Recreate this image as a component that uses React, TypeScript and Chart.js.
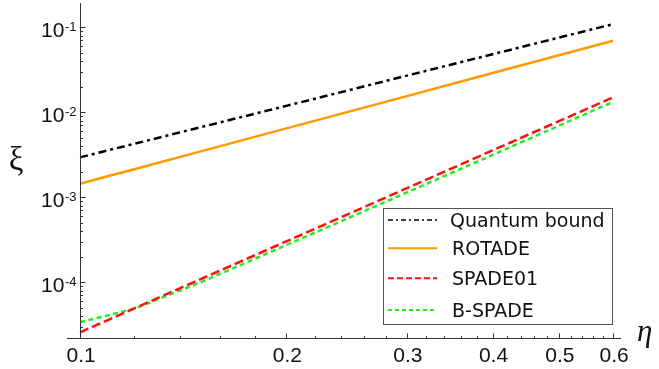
import React, { useEffect, useRef } from "react";
import { Chart, registerables } from "chart.js";

Chart.register(...registerables);

// ---- data ----
const eta = [0.1, 0.11, 0.12, 0.15, 0.2, 0.3, 0.4, 0.5, 0.6];
const quantumBound = [2.95e-3, 3.58e-3, 4.26e-3, 6.68e-3, 1.19e-2, 2.7e-2, 4.82e-2, 7.56e-2, 0.109];
const rotade = [1.445e-3, 1.78e-3, 2.14e-3, 3.47e-3, 6.47e-3, 1.55e-2, 2.9e-2, 4.69e-2, 6.96e-2];
const spade01 = [2.58e-5, 3.62e-5, 4.93e-5, 1.09e-4, 3.03e-4, 1.28e-3, 3.56e-3, 7.86e-3, 1.5e-2];
const bSpade = [3.4e-5, 4.1e-5, 4.9e-5, 1.0e-4, 2.74e-4, 1.14e-3, 3.15e-3, 6.95e-3, 1.33e-2];

const seriesLabels = ["Quantum bound", "ROTADE", "SPADE01", "B-SPADE"];

// ---- ticks ----
const xMajorTicks = [0.1, 0.2, 0.3, 0.4, 0.5, 0.6];
const xTickLabels = ["0.1", "0.2", "0.3", "0.4", "0.5", "0.6"];
const xMinorTicks = [
  0.12, 0.14, 0.16, 0.18, 0.22, 0.24, 0.26, 0.28, 0.32, 0.34, 0.36, 0.38,
  0.42, 0.44, 0.46, 0.48, 0.52, 0.54, 0.56, 0.58,
];
const yMajorExponents = [-4, -3, -2, -1];
const yMinorDecades = [-5, -4, -3, -2];
const yMinorMultipliers = [2, 3, 4, 5, 6, 7, 8, 9];

// ---- axis ranges ----
const X_MIN = 0.0957;
const X_MAX = 0.616;
const Y_MIN = 2.153e-5;
const Y_MAX = 0.1931;

const colors = ["#000000", "#FF9A00", "#FF1010", "#22EE22"];
const dashes: number[][] = [[8, 4, 3, 4], [], [9, 4], [5, 3.5]];
const legendDashes: number[][] = [[5, 3, 2, 3], [], [6, 3], [4, 3]];
const legendWidths = [1.6, 2, 2, 2];

const mmaPlugin = {
  id: "mmaAxes",
  afterDraw(chart: any) {
    const ctx: CanvasRenderingContext2D = chart.ctx;
    const xs = chart.scales.x;
    const ys = chart.scales.y;
    const axisX = Math.round(xs.getPixelForValue(0.1)) + 0.5;
    const axisY = Math.round(ys.bottom) - 0.5;
    ctx.save();
    ctx.strokeStyle = "#333";
    ctx.lineWidth = 1;
    ctx.setLineDash([]);
    // axes lines
    ctx.beginPath();
    ctx.moveTo(xs.left, axisY);
    ctx.lineTo(xs.right, axisY);
    ctx.moveTo(axisX, ys.top);
    ctx.lineTo(axisX, axisY);
    ctx.stroke();

    // x ticks
    ctx.beginPath();
    xMajorTicks.forEach((v) => {
      const px = Math.round(xs.getPixelForValue(v)) + 0.5;
      ctx.moveTo(px, axisY);
      ctx.lineTo(px, axisY - 5);
    });
    xMinorTicks.forEach((v) => {
      const px = Math.round(xs.getPixelForValue(v)) + 0.5;
      ctx.moveTo(px, axisY);
      ctx.lineTo(px, axisY - 2.5);
    });
    // y ticks
    yMajorExponents.forEach((e) => {
      const py = Math.round(ys.getPixelForValue(Math.pow(10, e))) + 0.5;
      ctx.moveTo(axisX, py);
      ctx.lineTo(axisX + 5, py);
    });
    yMinorDecades.forEach((d) => {
      yMinorMultipliers.forEach((m) => {
        const v = m * Math.pow(10, d);
        if (v < Y_MIN || v > Y_MAX) return;
        const py = Math.round(ys.getPixelForValue(v)) + 0.5;
        ctx.moveTo(axisX, py);
        ctx.lineTo(axisX + 2.5, py);
      });
    });
    ctx.stroke();

    // x tick labels
    ctx.fillStyle = "#111";
    ctx.font = '21px "Liberation Sans", Arial, sans-serif';
    ctx.textAlign = "center";
    ctx.textBaseline = "alphabetic";
    xMajorTicks.forEach((v, i) => {
      const px = xs.getPixelForValue(v);
      ctx.fillText(xTickLabels[i], px + 1, 361.5);
    });

    // y tick labels 10^e
    yMajorExponents.forEach((e) => {
      const py = ys.getPixelForValue(Math.pow(10, e));
      const sup = String(e);
      ctx.font = '13px "Liberation Sans", Arial, sans-serif';
      const supW = ctx.measureText(sup).width;
      const right = 76.5;
      ctx.textAlign = "left";
      ctx.fillText(sup, right - supW, py + 3.5);
      ctx.font = '21px "Liberation Sans", Arial, sans-serif';
      ctx.textAlign = "right";
      ctx.fillText("10", right - supW - 0.5, py + 10);
    });

    // axis titles
    ctx.font = '33px "Liberation Serif", "DejaVu Serif", serif';
    ctx.textAlign = "center";
    ctx.fillText("ξ", 16, 170);
    ctx.font = 'italic 31px "Liberation Serif", "DejaVu Serif", serif';
    ctx.textAlign = "left";
    ctx.fillText("η", 637, 340.5);

    // legend
    const bx = 383.5, by = 208.5, bw = 229, bh = 116;
    ctx.fillStyle = "#fff";
    ctx.fillRect(bx, by, bw, bh);
    ctx.strokeStyle = "#555";
    ctx.lineWidth = 1;
    ctx.setLineDash([]);
    ctx.strokeRect(bx, by, bw, bh);
    const rows = [220, 248.3, 278.3, 310];
    ctx.font = '19px "DejaVu Sans", Verdana, sans-serif';
    ctx.textAlign = "left";
    seriesLabels.forEach((lab, i) => {
      const ry = rows[i];
      ctx.strokeStyle = colors[i];
      ctx.lineWidth = legendWidths[i];
      ctx.setLineDash(legendDashes[i]);
      ctx.beginPath();
      ctx.moveTo(388, ry);
      ctx.lineTo(437, ry);
      ctx.stroke();
      ctx.setLineDash([]);
      ctx.fillStyle = "#111";
      ctx.fillText(lab, i === 0 ? 450 : 452, ry + 6.8);
    });
    ctx.restore();
  },
};

export default function App() {
  const canvasRef = useRef<HTMLCanvasElement | null>(null);

  useEffect(() => {
    if (!canvasRef.current) return;
    const series = [quantumBound, rotade, spade01, bSpade];
    const chart = new Chart(canvasRef.current, {
      type: "line",
      data: {
        datasets: series.map((s, i) => ({
          label: seriesLabels[i],
          data: eta.map((x, j) => ({ x, y: s[j] })),
          borderColor: colors[i],
          backgroundColor: colors[i],
          borderWidth: 2.5,
          borderDash: dashes[i],
          pointRadius: 0,
          fill: false,
          tension: 0,
        })),
      },
      options: {
        animation: false,
        responsive: false,
        devicePixelRatio: 1,
        layout: { padding: { left: 67, right: 38, top: 3, bottom: 30 } },
        plugins: {
          legend: { display: false },
          tooltip: { enabled: false },
        },
        scales: {
          x: { type: "logarithmic", display: false, min: X_MIN, max: X_MAX },
          y: { type: "logarithmic", display: false, min: Y_MIN, max: Y_MAX },
        },
      },
      plugins: [mmaPlugin],
    });
    return () => chart.destroy();
  }, []);

  return (
    <div style={{ position: "absolute", left: 0, top: 0, width: 659, height: 369, background: "#fff" }}>
      <canvas ref={canvasRef} width={659} height={369} style={{ display: "block" }} />
    </div>
  );
}
